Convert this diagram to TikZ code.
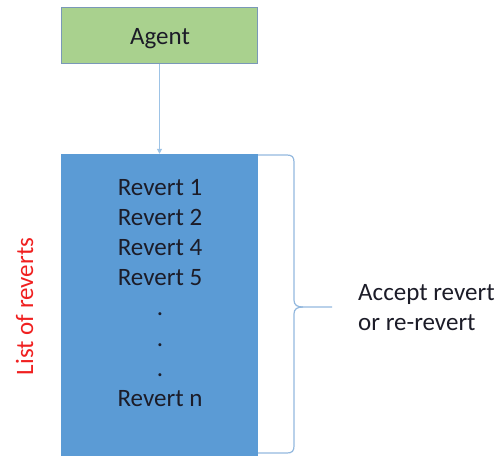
\documentclass[tikz,border=0pt]{standalone}
\usepackage{fontspec}
\setmainfont{Carlito}
\usetikzlibrary{arrows.meta}
\definecolor{agentfill}{HTML}{A9D18E}
\definecolor{agentline}{HTML}{7A98B8}
\definecolor{listfill}{HTML}{5B9BD5}
\definecolor{linkblue}{HTML}{9DC3E6}
\definecolor{bracecol}{HTML}{93B8DE}
\definecolor{inktext}{HTML}{1C1C28}
\definecolor{redlabel}{HTML}{F02020}
\tikzset{
  agentbox/.style={draw=agentline, line width=1pt, fill=agentfill, minimum width=196pt, minimum height=56pt, inner sep=0pt},
  listbox/.style={fill=listfill, minimum width=197pt, minimum height=302pt, inner sep=0pt},
  bigtext/.style={font=\fontsize{25}{30}\selectfont, text=inktext, inner sep=0pt},
  link/.style={draw=linkblue, line width=1pt, -{Triangle[length=5pt,width=5pt]}},
  bracepath/.style={draw=bracecol, line width=1.2pt}
}
\begin{document}
\begin{tikzpicture}[x=1pt,y=-1pt]
\useasboundingbox (0,0) rectangle (497,456);
% boxes
\node[agentbox] (agent) at (159.5,35) {};
\node[bigtext, anchor=base] (agentlabel) at (160,44) {Agent};
\node[listbox] (list) at (159.5,305) {};
% entries of the list
\foreach \t [count=\i] in {Revert 1,Revert 2,Revert 4,Revert 5,.,.,.,Revert n}
  \node[bigtext, anchor=base] (r\i) at (160,{195+30.2*(\i-1)}) {\t};
% connector from the agent to the list
\draw[link] (agent.south) -- (list.north);
% brace on the right side of the list
\coordinate (btop) at (258,155);
\coordinate (bbot) at (258,453);
\coordinate (btip) at (332,307);
\draw[bracepath] (btop) -- (287,155) .. controls (292,155) and (294,157) .. (294,162)
  -- (294,300) .. controls (294,305) and (297,307) .. (303,307) -- (btip);
\draw[bracepath] (303,307) .. controls (297,307) and (294,309) .. (294,314)
  -- (294,446) .. controls (294,451) and (292,453) .. (287,453) -- (bbot);
% labels
\node[bigtext, anchor=base west] (accept) at (358,300) {Accept revert};
\node[bigtext, anchor=base west] (rerevert) at (358,330) {or re-revert};
\node[bigtext, text=redlabel, rotate=90, anchor=base] (listlabel) at (33,306.5) {List of reverts};
\end{tikzpicture}
\end{document}
